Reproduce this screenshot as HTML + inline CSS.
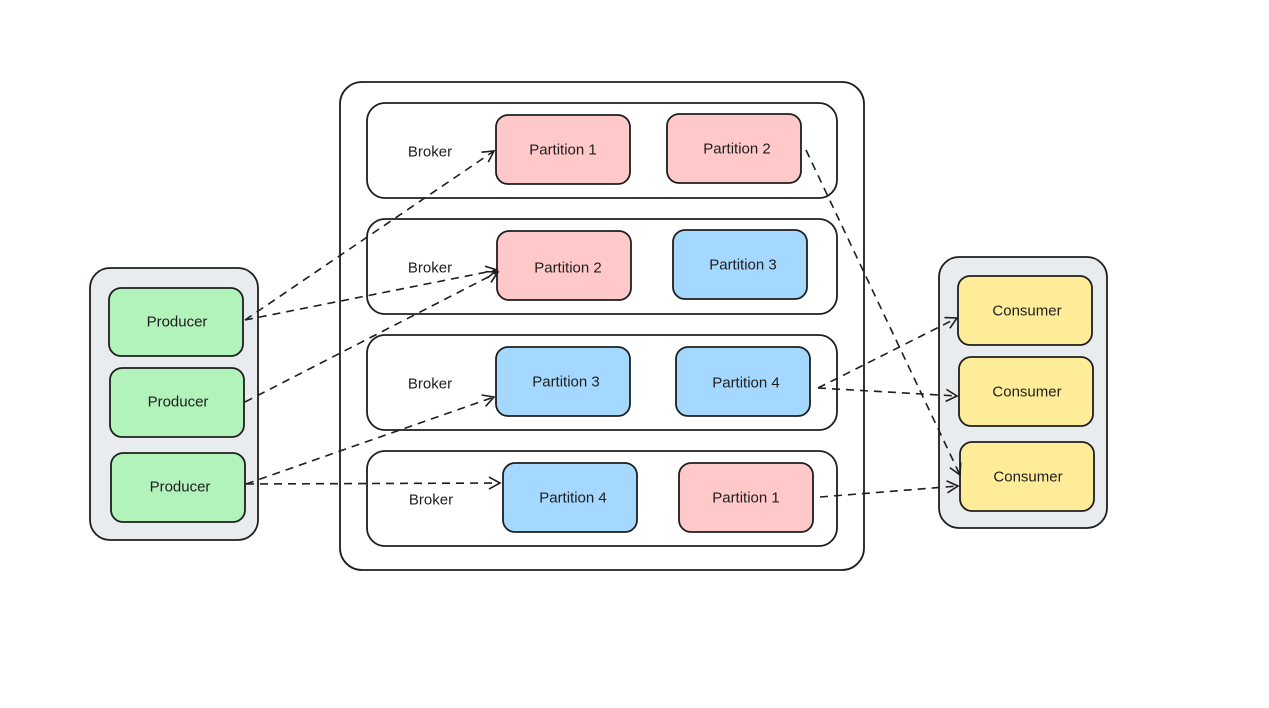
<!DOCTYPE html>
<html><head><meta charset="utf-8"><style>
html,body{margin:0;padding:0;background:#fff;}
svg text{font-family:"Liberation Sans",sans-serif;font-size:15px;fill:#1e1e1e;text-anchor:middle;dominant-baseline:central;}
</style></head><body>
<svg width="1269" height="703" viewBox="0 0 1269 703" xmlns="http://www.w3.org/2000/svg">
<defs>
<marker id="a" markerWidth="14" markerHeight="14" refX="12" refY="7" orient="auto" markerUnits="userSpaceOnUse">
<path d="M1,1 L12,7 L1,13" fill="none" stroke="#1e1e1e" stroke-width="1.6"/>
</marker>
</defs>
<g stroke="#1e1e1e" stroke-width="1.8">
<rect x="340" y="82" width="524" height="488" rx="22" fill="#fff"/>
<rect x="367" y="103" width="470" height="95" rx="18" fill="#fff"/>
<rect x="367" y="219" width="470" height="95" rx="18" fill="#fff"/>
<rect x="367" y="335" width="470" height="95" rx="18" fill="#fff"/>
<rect x="367" y="451" width="470" height="95" rx="18" fill="#fff"/>
<rect x="90" y="268" width="168" height="272" rx="20" fill="#e9ecef"/>
<rect x="939" y="257" width="168" height="271" rx="20" fill="#e9ecef"/>
<rect x="109" y="288" width="134" height="68" rx="12" fill="#b2f2bb"/>
<rect x="110" y="368" width="134" height="69" rx="12" fill="#b2f2bb"/>
<rect x="111" y="453" width="134" height="69" rx="12" fill="#b2f2bb"/>
<rect x="958" y="276" width="134" height="69" rx="12" fill="#ffec99"/>
<rect x="959" y="357" width="134" height="69" rx="12" fill="#ffec99"/>
<rect x="960" y="442" width="134" height="69" rx="12" fill="#ffec99"/>
<rect x="496" y="115" width="134" height="69" rx="12" fill="#ffc9c9"/>
<rect x="667" y="114" width="134" height="69" rx="12" fill="#ffc9c9"/>
<rect x="497" y="231" width="134" height="69" rx="12" fill="#ffc9c9"/>
<rect x="673" y="230" width="134" height="69" rx="12" fill="#a5d8ff"/>
<rect x="496" y="347" width="134" height="69" rx="12" fill="#a5d8ff"/>
<rect x="676" y="347" width="134" height="69" rx="12" fill="#a5d8ff"/>
<rect x="503" y="463" width="134" height="69" rx="12" fill="#a5d8ff"/>
<rect x="679" y="463" width="134" height="69" rx="12" fill="#ffc9c9"/>
</g>
<g stroke="#1e1e1e" stroke-width="1.6" fill="none" stroke-dasharray="8 6" marker-end="url(#a)">
<path d="M245,320 L494,151"/>
<path d="M245,320 L497,270"/>
<path d="M245,402 L498,272"/>
<path d="M246,484 L494,397"/>
<path d="M246,484 L500,483"/>
<path d="M806,150 L960,475"/>
<path d="M818,388 L957,318"/>
<path d="M818,388 L957,396"/>
<path d="M820,497 L958,486"/>
</g>
<text x="430" y="152">Broker</text>
<text x="430" y="268">Broker</text>
<text x="430" y="384">Broker</text>
<text x="431" y="500">Broker</text>
<text x="563" y="150">Partition 1</text>
<text x="737" y="149">Partition 2</text>
<text x="568" y="268">Partition 2</text>
<text x="743" y="265">Partition 3</text>
<text x="566" y="382">Partition 3</text>
<text x="746" y="383">Partition 4</text>
<text x="573" y="498">Partition 4</text>
<text x="746" y="498">Partition 1</text>
<text x="177" y="322">Producer</text>
<text x="178" y="402">Producer</text>
<text x="180" y="487">Producer</text>
<text x="1027" y="311">Consumer</text>
<text x="1027" y="392">Consumer</text>
<text x="1028" y="477">Consumer</text>
</svg>
</body></html>
